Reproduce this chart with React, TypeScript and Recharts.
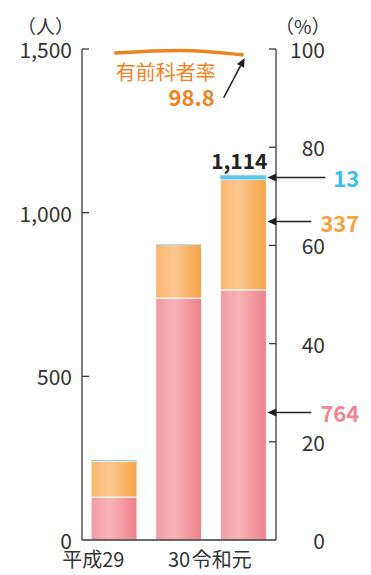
import { ComposedChart, Bar, Line, XAxis, YAxis, LabelList, Label } from 'recharts'

const years = ['平成29', '30', '令和元']
const lowerValues = [131, 739, 764]
const middleValues = [110, 164, 337]
const topValues = [3, 1, 13]
const rates = [99.2, 99.7, 98.8]
const leftTicks = [0, 500, 1000, 1500]
const rightTicks = [0, 20, 40, 60, 80, 100]

const data = years.map((year, i) => ({
  year,
  lower: lowerValues[i],
  middle: middleValues[i],
  top: topValues[i],
  rate: rates[i],
}))

const AXIS = '#3a3a3a'
const TEXT = '#333'
const PINK = '#f08591'
const ORANGE = '#f7a23e'
const BLUE = '#3dbdeb'
const LINE = '#ee8322'

// label shifts
const X_SHIFT: Record<string, number> = { 平成29: -21, '30': 0, 令和元: -22 }

function LeftTick({ x, y, payload }: any) {
  return (
    <g>
      {payload.value !== 0 && <line x1={x} x2={x + 7} y1={y} y2={y} stroke={AXIS} strokeWidth={1.3} />}
      <text x={x - 10} y={y} textAnchor="end" dominantBaseline="central" fontSize={21} fill={TEXT}>
        {payload.value.toLocaleString('en-US')}
      </text>
    </g>
  )
}

function RightTick({ x, y, payload }: any) {
  return (
    <g>
      {payload.value !== 0 && <line x1={x - 7} x2={x} y1={y} y2={y} stroke={AXIS} strokeWidth={1.3} />}
      <text x={x + 49} y={y} textAnchor="end" dominantBaseline="central" fontSize={21} fill={TEXT}>
        {payload.value}
      </text>
    </g>
  )
}

function YearTick({ x, y, payload }: any) {
  return (
    <text x={x + (X_SHIFT[payload.value] ?? 0)} y={y + 27} textAnchor="middle" fontSize={20} fill={TEXT}>
      {payload.value}
    </text>
  )
}

function Arrow({ x1, y1, x2, y2 }: { x1: number; y1: number; x2: number; y2: number }) {
  // arrow pointing at (x2, y2)
  const a = Math.atan2(y2 - y1, x2 - x1)
  const len = 9
  const w = 4
  const bx = x2 - Math.cos(a) * len
  const by = y2 - Math.sin(a) * len
  const px = -Math.sin(a) * w
  const py = Math.cos(a) * w
  return (
    <g>
      <line x1={x1} y1={y1} x2={bx} y2={by} stroke="#222" strokeWidth={1.5} />
      <polygon points={`${x2},${y2} ${bx + px},${by + py} ${bx - px},${by - py}`} fill="#222" />
    </g>
  )
}

function sideNote(color: string, frac: number, lineLen: number) {
  return (props: any) => {
    const { x, y, width, height, value, index } = props
    if (index !== 2) return null
    const right = x + width
    const ay = y + height * frac
    return (
      <g>
        <Arrow x1={right + lineLen} y1={ay} x2={right + 1} y2={ay} />
        <text x={right + 93} y={ay} textAnchor="end" dominantBaseline="central" fontSize={22} fontWeight="bold" fill={color}>
          {value}
        </text>
      </g>
    )
  }
}

function TotalNote(props: any) {
  const { x, y, width, index } = props
  if (index !== 2) return null
  const total = lowerValues[index] + middleValues[index] + topValues[index]
  return (
    <text x={x + width / 2 - 4} y={y - 6} textAnchor="middle" fontSize={21} fontWeight="bold" fill="#222">
      {total.toLocaleString('en-US')}
    </text>
  )
}

function RateNote(props: any) {
  const { x, y, value, index } = props
  if (index !== 2) return null
  return (
    <g>
      <text x={x - 28} y={y + 25} textAnchor="end" fontSize={20} fill={LINE}>
        有前科者率
      </text>
      <text x={x - 29} y={y + 51} textAnchor="end" fontSize={22} fontWeight="bold" fill={LINE}>
        {value}
      </text>
      <Arrow x1={x - 20} y1={y + 43} x2={x + 1} y2={y + 3} />
    </g>
  )
}

function UnitLabel(side: 'left' | 'right', text: string) {
  return (props: any) => {
    const vb = props.viewBox
    const tx = side === 'left' ? vb.x + vb.width - 8 : vb.x - 1
    return (
      <text x={tx} y={vb.y - 24} textAnchor={side === 'left' ? 'end' : 'start'} dominantBaseline="central" fontSize={19} fill={TEXT}>
        {text}
      </text>
    )
  }
}

export default function App() {
  return (
    <div style={{ position: 'absolute', left: 0, top: 0, fontFamily: '"Noto Sans CJK JP", "Noto Sans", sans-serif' }}>
      <ComposedChart width={371} height={575} data={data} margin={{ top: 49, right: 0, bottom: 0, left: 0 }} barSize={46}>
        <defs>
          <linearGradient id="pinkGrad" x1="0" y1="0" x2="1" y2="0">
            <stop offset="0%" stopColor="#f29ba4" />
            <stop offset="40%" stopColor="#f7b4b8" />
            <stop offset="100%" stopColor="#ee808b" />
          </linearGradient>
          <linearGradient id="orangeGrad" x1="0" y1="0" x2="1" y2="0">
            <stop offset="0%" stopColor="#fab66f" />
            <stop offset="40%" stopColor="#fcc890" />
            <stop offset="100%" stopColor="#f7a346" />
          </linearGradient>
        </defs>
        <XAxis
          dataKey="year"
          height={35}
          axisLine={{ stroke: AXIS, strokeWidth: 1.3 }}
          tickLine={false}
          tickSize={0}
          tickMargin={0}
          tick={(p: any) => <YearTick {...p} />}
        />
        <YAxis
          yAxisId="left"
          domain={[0, 1500]}
          ticks={leftTicks}
          width={82}
          axisLine={{ stroke: AXIS, strokeWidth: 1.3 }}
          tickLine={false}
          tickSize={0}
          tickMargin={0}
          tick={(p: any) => <LeftTick {...p} />}
        >
          <Label content={UnitLabel('left', '（人）')} />
        </YAxis>
        <YAxis
          yAxisId="right"
          orientation="right"
          domain={[0, 100]}
          ticks={rightTicks}
          width={95}
          axisLine={{ stroke: AXIS, strokeWidth: 1.3 }}
          tickLine={false}
          tickSize={0}
          tickMargin={0}
          tick={(p: any) => <RightTick {...p} />}
        >
          <Label content={UnitLabel('right', '（%）')} />
        </YAxis>
        <Bar yAxisId="left" dataKey="lower" stackId="a" fill="url(#pinkGrad)" stroke="#fff" strokeWidth={1} isAnimationActive={false}>
          <LabelList dataKey="lower" content={sideNote(PINK, 0.49, 45)} />
        </Bar>
        <Bar yAxisId="left" dataKey="middle" stackId="a" fill="url(#orangeGrad)" stroke="#fff" strokeWidth={1} isAnimationActive={false}>
          <LabelList dataKey="middle" content={sideNote(ORANGE, 0.38, 45)} />
        </Bar>
        <Bar yAxisId="left" dataKey="top" stackId="a" fill="#5cc8ee" isAnimationActive={false}>
          <LabelList dataKey="top" content={sideNote(BLUE, 0.5, 59)} />
          <LabelList dataKey="top" content={TotalNote} />
        </Bar>
        <Line
          yAxisId="right"
          dataKey="rate"
          type="monotone"
          stroke={LINE}
          strokeWidth={3.5}
          dot={false}
          isAnimationActive={false}
        >
          <LabelList dataKey="rate" content={RateNote} />
        </Line>
      </ComposedChart>
    </div>
  )
}
